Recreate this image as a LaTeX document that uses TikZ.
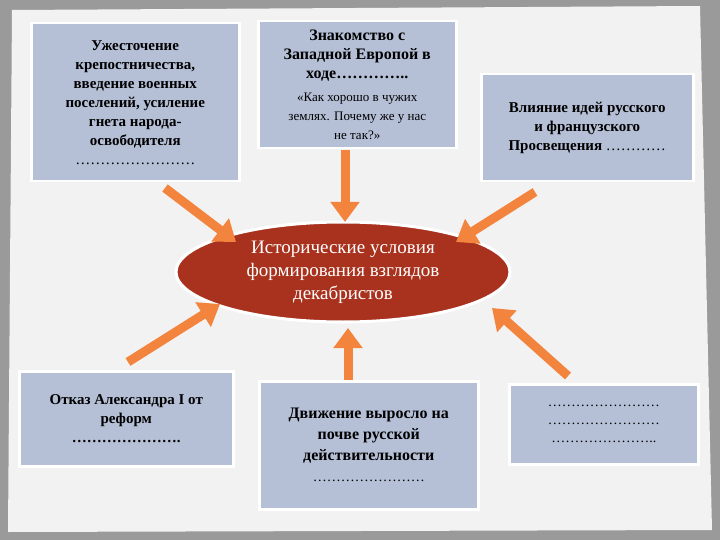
\documentclass[tikz,border=0pt]{standalone}
\usepackage{fontspec}
\setmainfont{Liberation Serif}
\usetikzlibrary{arrows.meta,shapes.geometric}
\begin{document}
\begin{tikzpicture}[x=1pt,y=-1pt,
  box/.style={draw=white,line width=2.5pt,fill=boxc,align=center,font=\bfseries\fontsize{15}{19}\selectfont,inner sep=3pt},
  arr/.style={draw=orgc,line width=9pt,-{Triangle[length=20pt,width=28pt]}}]
\definecolor{boxc}{HTML}{B5BFD6}
\definecolor{orgc}{HTML}{F2843E}
\definecolor{redc}{HTML}{A8321E}
\definecolor{paper}{HTML}{F2F2F2}
\definecolor{frame}{HTML}{9A9A9A}
\useasboundingbox (0,0) rectangle (720,540);
\fill[frame] (0,0) rectangle (720,540);
\fill[paper] (12,10) -- (700,6) -- (712,530) -- (8,532) -- cycle;
\node[box,minimum width=208pt,minimum height=158pt,anchor=north west] (b1) at (30,22) {Ужесточение\\крепостничества,\\введение военных\\поселений, усиление\\гнета народа-\\освободителя\\\mdseries\ldots\ldots\ldots\ldots\ldots\ldots\ldots\ldots};
\node[box,minimum width=198pt,minimum height=127pt,anchor=north west,font=\bfseries\fontsize{16}{19}\selectfont] (b2) at (257,20) {Знакомство с\\Западной Европой в\\ходе\ldots\ldots\ldots\ldots..\\[4pt]\mdseries\fontsize{13}{15}\selectfont «Как хорошо в чужих\\\mdseries\fontsize{13}{15}\selectfont землях. Почему же у нас\\\mdseries\fontsize{13}{15}\selectfont не так?»};
\node[box,minimum width=212pt,minimum height=107pt,anchor=north west] (b3) at (480,73) {Влияние идей русского\\и французского\\Просвещения \mdseries\ldots\ldots\ldots\ldots};
\node[box,minimum width=214pt,minimum height=95pt,anchor=north west] (b4) at (18,370) {Отказ Александра I от\\реформ\\\ldots\ldots\ldots\ldots\ldots\ldots\ldots.};
\node[box,minimum width=219pt,minimum height=128pt,anchor=north west,font=\bfseries\fontsize{16}{21}\selectfont] (b5) at (258,380) {Движение выросло на\\почве русской\\действительности\\\mdseries\fontsize{14}{19}\selectfont\ldots\ldots\ldots\ldots\ldots\ldots\ldots\ldots};
\node[box,minimum width=189pt,minimum height=80pt,anchor=north west,font=\fontsize{14}{18}\selectfont] (b6) at (508,383) {\ldots\ldots\ldots\ldots\ldots\ldots\ldots\ldots\\\ldots\ldots\ldots\ldots\ldots\ldots\ldots\ldots\\\ldots\ldots\ldots\ldots\ldots\ldots\ldots..};
\node[ellipse,draw=white,line width=3pt,fill=redc,minimum width=334pt,minimum height=100pt,inner sep=0pt,text=white,align=center,font=\fontsize{19}{23}\selectfont] (e) at (343,272) {Исторические условия\\формирования взглядов\\декабристов};
\coordinate (a1) at (165,188); \coordinate (t1) at (236,242);
\coordinate (a2) at (345,150); \coordinate (t2) at (345,222);
\coordinate (a3) at (535,192); \coordinate (t3) at (456,242);
\coordinate (a4) at (128,362); \coordinate (t4) at (220,304);
\coordinate (a5) at (348,380); \coordinate (t5) at (348,328);
\coordinate (a6) at (568,376); \coordinate (t6) at (492,308);
\foreach \i in {1,...,6} \draw[arr] (a\i) -- (t\i);
\end{tikzpicture}
\end{document}
